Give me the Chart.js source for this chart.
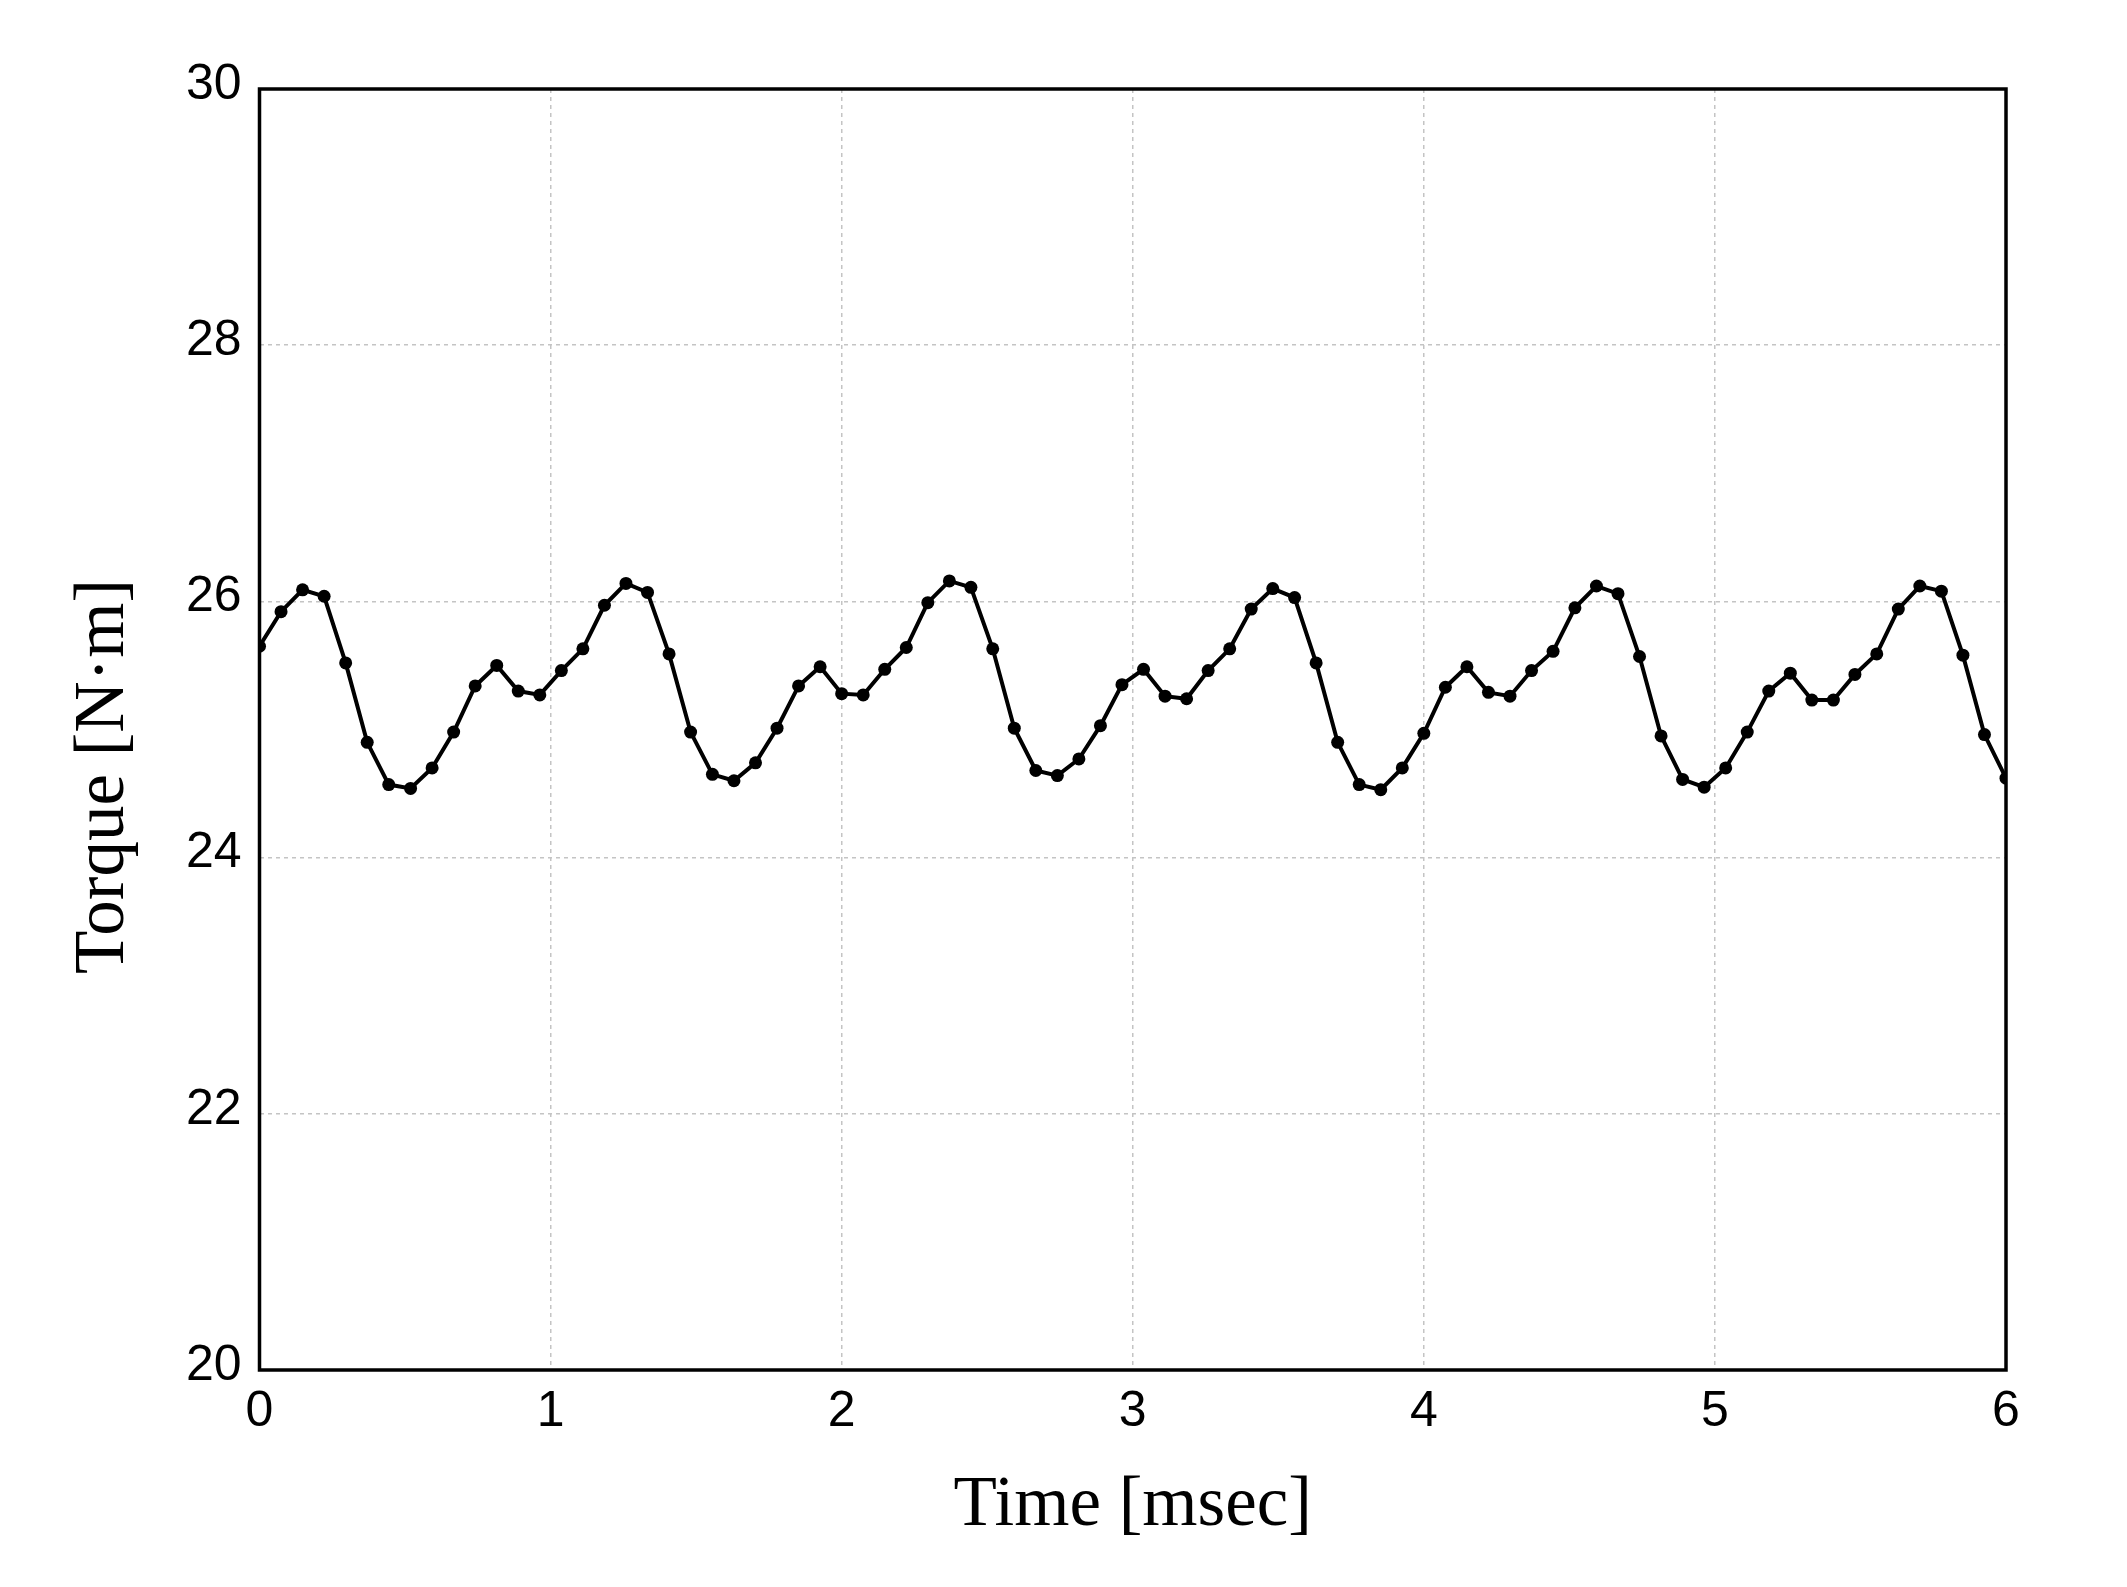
<!DOCTYPE html>
<html lang="en">

<head>
    <meta charset="UTF-8">
    <title>Torque vs Time</title>
    <script src="https://cdn.jsdelivr.net/npm/chart.js"></script>
    <style>
        body {
            margin: 0;
            background: #fff;
        }

        #grafico {
            display: block;
        }
    </style>
</head>

<body>
    <canvas id="grafico" width="2127" height="1587"></canvas>
</body>

</html>

<script>

    // tempo em msec (passo de 1/13.5 msec)
    const tempos = [
        0.000, 0.074, 0.148, 0.222, 0.296, 0.370, 0.444, 0.519, 0.593, 0.667,
        0.741, 0.815, 0.889, 0.963, 1.037, 1.111, 1.185, 1.259, 1.333, 1.407,
        1.481, 1.556, 1.630, 1.704, 1.778, 1.852, 1.926, 2.000, 2.074, 2.148,
        2.222, 2.296, 2.370, 2.444, 2.519, 2.593, 2.667, 2.741, 2.815, 2.889,
        2.963, 3.037, 3.111, 3.185, 3.259, 3.333, 3.407, 3.481, 3.556, 3.630,
        3.704, 3.778, 3.852, 3.926, 4.000, 4.074, 4.148, 4.222, 4.296, 4.370,
        4.444, 4.519, 4.593, 4.667, 4.741, 4.815, 4.889, 4.963, 5.037, 5.111,
        5.185, 5.259, 5.333, 5.407, 5.481, 5.556, 5.630, 5.704, 5.778, 5.852,
        5.926, 6.000
    ];

    // torque em N·m
    const torque = [
        25.65, 25.92, 26.09, 26.04, 25.52, 24.90, 24.57, 24.54, 24.70, 24.98,
        25.34, 25.50, 25.30, 25.27, 25.46, 25.63, 25.97, 26.14, 26.07, 25.59,
        24.98, 24.65, 24.60, 24.74, 25.01, 25.34, 25.49, 25.28, 25.27, 25.47,
        25.64, 25.99, 26.16, 26.11, 25.63, 25.01, 24.68, 24.64, 24.77, 25.03,
        25.35, 25.47, 25.26, 25.24, 25.46, 25.63, 25.94, 26.10, 26.03, 25.52,
        24.90, 24.57, 24.53, 24.70, 24.97, 25.33, 25.49, 25.29, 25.26, 25.46,
        25.61, 25.95, 26.12, 26.06, 25.57, 24.95, 24.61, 24.55, 24.70, 24.98,
        25.30, 25.44, 25.23, 25.23, 25.43, 25.59, 25.94, 26.12, 26.08, 25.58,
        24.96, 24.62
    ];

    const ticksX = [0, 1, 2, 3, 4, 5, 6];
    const ticksY = [20, 22, 24, 26, 28, 30];

    const tituloX = 'Time [msec]';
    const tituloY = 'Torque [N\u00B7m]';

    const pontos = [];
    for (let i = 0; i < tempos.length; i++) {
        pontos.push({ x: tempos[i], y: torque[i] });
    }

    // moldura preta e titulos dos eixos
    const molduraETitulos = {
        id: 'molduraETitulos',
        afterDatasetsDraw(chart) {
            const ctx = chart.ctx;
            const area = chart.chartArea;
            ctx.save();
            ctx.strokeStyle = '#000';
            ctx.lineWidth = 3.5;
            ctx.strokeRect(area.left, area.top, area.right - area.left, area.bottom - area.top);

            ctx.fillStyle = '#000';
            ctx.font = '71px "Liberation Serif", "Times New Roman", serif';
            ctx.textAlign = 'center';
            ctx.textBaseline = 'alphabetic';
            ctx.fillText(tituloX, (area.left + area.right) / 2, area.bottom + 155);

            ctx.translate(area.left - 137, (area.top + area.bottom) / 2 + 47);
            ctx.rotate(-Math.PI / 2);
            ctx.fillText(tituloY, 0, 0);
            ctx.restore();
        }
    };

    const fonteTicks = { family: '"Liberation Sans", Arial, sans-serif', size: 50 };

    const config = {
        type: 'line',
        data: {
            datasets: [{
                data: pontos,
                borderColor: '#000',
                backgroundColor: '#000',
                borderWidth: 4,
                pointRadius: 6.5,
                pointBorderWidth: 0,
                pointBackgroundColor: '#000',
                tension: 0,
                fill: false
            }]
        },
        options: {
            responsive: false,
            animation: false,
            layout: {
                padding: { left: 0, top: 89, right: 121, bottom: 0 }
            },
            plugins: {
                legend: { display: false },
                tooltip: { enabled: false }
            },
            scales: {
                x: {
                    type: 'linear',
                    min: 0,
                    max: 6,
                    afterBuildTicks: (escala) => {
                        escala.ticks = ticksX.map(v => ({ value: v }));
                    },
                    afterFit: (escala) => {
                        escala.height = 217;
                    },
                    border: { display: false, dash: [4, 4] },
                    grid: {
                        color: '#c4c4c4',
                        lineWidth: 1.5,
                        drawTicks: false
                    },
                    ticks: {
                        color: '#000',
                        font: fonteTicks,
                        padding: 12,
                        maxRotation: 0
                    }
                },
                y: {
                    type: 'linear',
                    min: 20,
                    max: 30,
                    afterBuildTicks: (escala) => {
                        escala.ticks = ticksY.map(v => ({ value: v }));
                    },
                    afterFit: (escala) => {
                        escala.width = 259.5;
                    },
                    border: { display: false, dash: [4, 4] },
                    grid: {
                        color: '#c4c4c4',
                        lineWidth: 1.5,
                        drawTicks: false
                    },
                    ticks: {
                        color: '#000',
                        font: fonteTicks,
                        padding: 18,
                        labelOffset: -4
                    }
                }
            }
        },
        plugins: [molduraETitulos]
    };

    let myChart = new Chart(document.getElementById('grafico'), config);

</script>
